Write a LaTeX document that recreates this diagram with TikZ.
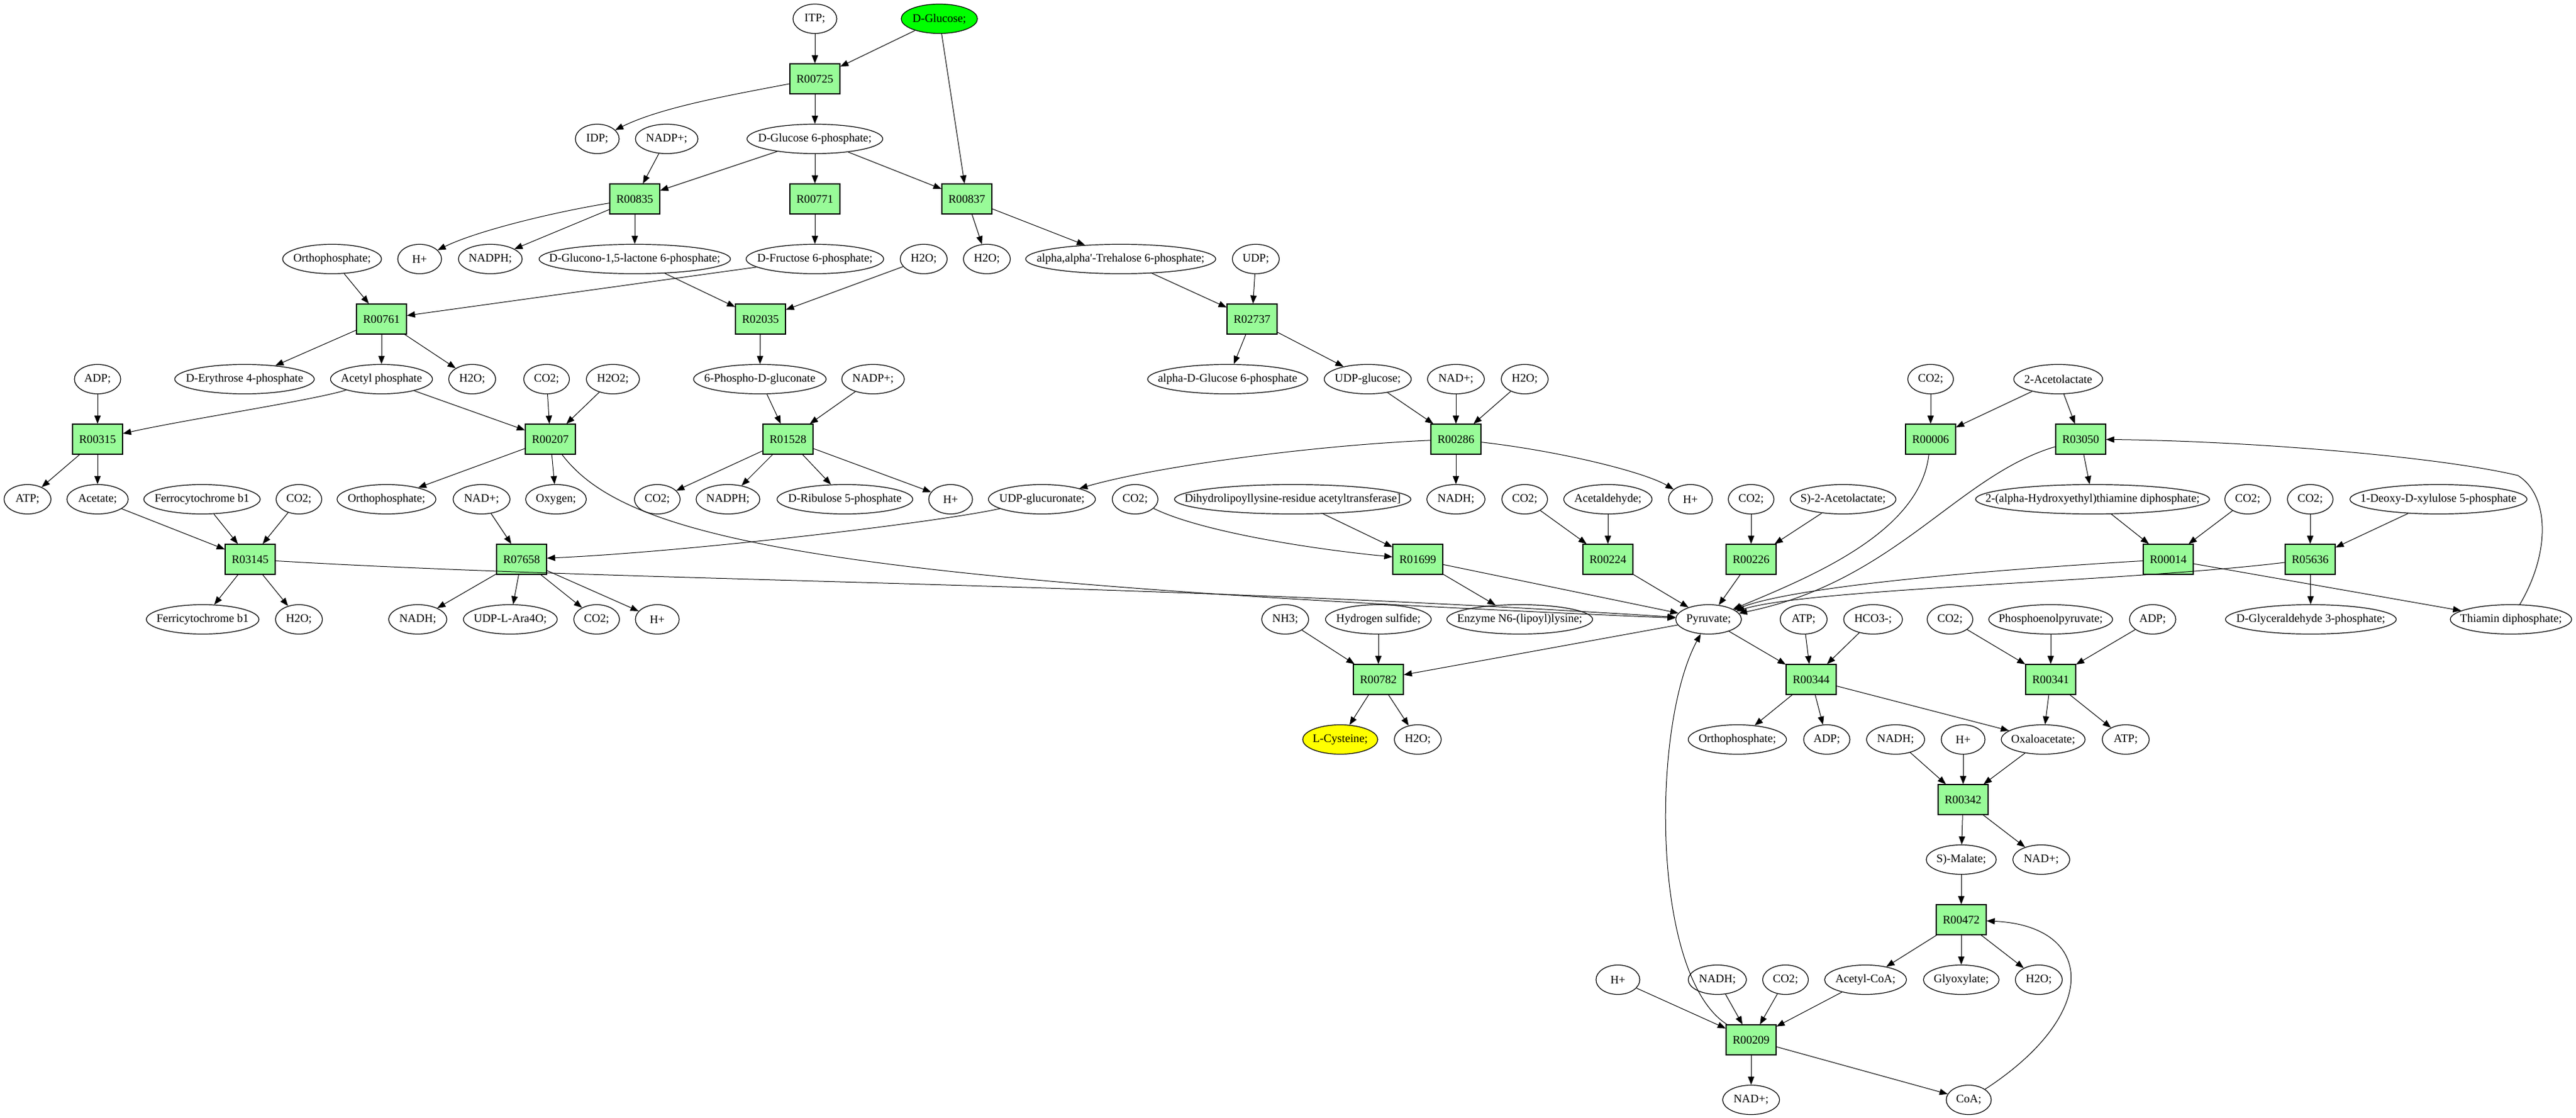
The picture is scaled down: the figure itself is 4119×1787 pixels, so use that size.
\documentclass[tikz,border=0pt]{standalone}
\usepackage{fontspec}
\setmainfont{Liberation Serif}
\usetikzlibrary{shapes.geometric,arrows.meta}
\definecolor{rxgreen}{RGB}{152,251,152}
\definecolor{glcgreen}{RGB}{0,255,0}
\definecolor{cysyellow}{RGB}{255,255,0}
\tikzset{
 met/.style={ellipse, draw, line width=0.6pt, inner sep=0pt, minimum height=23.5pt, font=\fontsize{9.3}{11}\selectfont},
 rxn/.style={rectangle, draw, line width=0.6pt, fill=rxgreen, inner sep=0pt, minimum width=40pt, minimum height=24pt, font=\fontsize{9.3}{11}\selectfont},
 arr/.style={-{Triangle[length=6.5pt,width=5pt]}, line width=0.5pt},
}
\newcommand{\metab}[5]{\node[met, minimum width=#4*0.5pt] (#1) at (#2,#3) {\makebox[0pt]{#5}};}
\newcommand{\rxnode}[3]{\node[rxn] (#1) at (#2,#3) {#1};}
\begin{document}
\begin{tikzpicture}[x=0.5pt,y=-0.5pt]
\fill[white] (0,0) rectangle (4119,1787);
\useasboundingbox (0,0) rectangle (4119,1787);
% row 30
\metab{itp}{1303}{30}{70}{ITP;}
\node[met, fill=glcgreen, minimum width=122*0.5pt] (glc) at (1502,30) {\makebox[0pt]{D-Glucose;}};
\rxnode{R00725}{1303}{126}
% row 222
\metab{idp}{955}{222}{70}{IDP;}
\metab{nadp1}{1066}{222}{100}{NADP+;}
\metab{g6p}{1303}{222}{217}{D-Glucose 6-phosphate;}
\rxnode{R00835}{1015}{318}
\rxnode{R00771}{1303}{318}
\rxnode{R00837}{1546}{318}
% row 414
\metab{orth1}{531}{414}{158}{Orthophosphate;}
\metab{hp1}{671}{414}{70}{H+}
\metab{nadph1}{784}{414}{102}{NADPH;}
\metab{glcl}{1015}{414}{306}{D-Glucono-1,5-lactone 6-phosphate;}
\metab{f6p}{1303}{414}{220}{D-Fructose 6-phosphate;}
\metab{h2o1}{1477}{414}{75}{H2O;}
\metab{h2o2}{1578}{414}{75}{H2O;}
\metab{t6p}{1792}{414}{304}{alpha,alpha\textquotesingle-Trehalose 6-phosphate;}
\metab{udp}{2008}{414}{75}{UDP;}
\rxnode{R00761}{610}{510}
\rxnode{R02035}{1216}{510}
\rxnode{R02737}{2002}{510}
% row 606
\metab{adp1}{156}{606}{74}{ADP;}
\metab{e4p}{391}{606}{223}{D-Erythrose 4-phosphate}
\metab{acp}{610}{606}{163}{Acetyl phosphate}
\metab{h2o3}{755}{606}{75}{H2O;}
\metab{co2a}{874}{606}{73}{CO2;}
\metab{h2o2x}{980}{606}{85}{H2O2;}
\metab{pg6}{1215}{606}{212}{6-Phospho-D-gluconate}
\metab{nadp2}{1396}{606}{100}{NADP+;}
\metab{ag6p}{1963}{606}{256}{alpha-D-Glucose 6-phosphate}
\metab{udpg}{2187}{606}{139}{UDP-glucose;}
\metab{nad1}{2328}{606}{91}{NAD+;}
\metab{h2o4}{2438}{606}{75}{H2O;}
\metab{co2b}{3087}{606}{73}{CO2;}
\metab{acl}{3291}{606}{142}{2-Acetolactate}
\rxnode{R00315}{156}{702}
\rxnode{R00207}{880}{702}
\rxnode{R01528}{1260}{702}
\rxnode{R00286}{2328}{702}
\rxnode{R00006}{3087}{702}
\rxnode{R03050}{3327}{702}
% row 798
\metab{atp1}{44}{798}{75}{ATP;}
\metab{acet}{156}{798}{98}{Acetate;}
\metab{ferro}{323}{798}{186}{Ferrocytochrome b1}
\metab{co2c}{478}{798}{73}{CO2;}
\metab{orth2}{618}{798}{158}{Orthophosphate;}
\metab{nad2}{770}{798}{91}{NAD+;}
\metab{oxy}{889}{798}{97}{Oxygen;}
\metab{co2d}{1051}{798}{73}{CO2;}
\metab{nadph2}{1164}{798}{102}{NADPH;}
\metab{ru5p}{1351}{798}{217}{D-Ribulose 5-phosphate}
\metab{hp2}{1520}{798}{70}{H+}
\metab{udpgluc}{1666}{798}{171}{UDP-glucuronate;}
\metab{co2e}{1815}{798}{73}{CO2;}
\metab{dihyd}{2067}{798}{378}{Dihydrolipoyllysine-residue acetyltransferase]}
\metab{nadh1}{2328}{798}{93}{NADH;}
\metab{co2f}{2438}{798}{73}{CO2;}
\metab{acald}{2571}{798}{141}{Acetaldehyde;}
\metab{hp3}{2703}{798}{70}{H+}
\metab{co2g}{2800}{798}{73}{CO2;}
\metab{sacl}{2947}{798}{169}{S)-2-Acetolactate;}
\metab{hetpp}{3346}{798}{374}{2-(alpha-Hydroxyethyl)thiamine diphosphate;}
\metab{co2h}{3594}{798}{73}{CO2;}
\metab{co2i}{3694}{798}{73}{CO2;}
\metab{dxp}{3899}{798}{283}{1-Deoxy-D-xylulose 5-phosphate}
% row 894
\rxnode{R03145}{400}{894}
\rxnode{R07658}{834}{894}
\rxnode{R01699}{2267}{894}
\rxnode{R00224}{2571}{894}
\rxnode{R00226}{2800}{894}
\rxnode{R00014}{3467}{894}
\rxnode{R05636}{3694}{894}
% row 990
\metab{ferri}{324}{990}{180}{Ferricytochrome b1}
\metab{h2o5}{478}{990}{75}{H2O;}
\metab{nadh2}{668}{990}{93}{NADH;}
\metab{ara}{816}{990}{150}{UDP-L-Ara4O;}
\metab{co2j}{954}{990}{73}{CO2;}
\metab{hp4}{1051}{990}{70}{H+}
\metab{nh3}{2055}{990}{75}{NH3;}
\metab{h2s}{2204}{990}{169}{Hydrogen sulfide;}
\metab{enz}{2430}{990}{233}{Enzyme N6-(lipoyl)lysine;}
\metab{pyr}{2732}{990}{105}{Pyruvate;}
\metab{atp2}{2884}{990}{75}{ATP;}
\metab{hco3}{2995}{990}{94}{HCO3-;}
\metab{co2k}{3118}{990}{73}{CO2;}
\metab{pep}{3279}{990}{198}{Phosphoenolpyruvate;}
\metab{adp2}{3442}{990}{74}{ADP;}
\metab{gap}{3695}{990}{273}{D-Glyceraldehyde 3-phosphate;}
\metab{thdp}{4015}{990}{194}{Thiamin diphosphate;}
\rxnode{R00782}{2204}{1086}
\rxnode{R00344}{2896}{1086}
\rxnode{R00341}{3279}{1086}
% row 1182
\node[met, fill=cysyellow, minimum width=120*0.5pt] (cys) at (2143,1182) {\makebox[0pt]{L-Cysteine;}};
\metab{h2o6}{2267}{1182}{75}{H2O;}
\metab{orth3}{2778}{1182}{157}{Orthophosphate;}
\metab{adp3}{2921}{1182}{74}{ADP;}
\metab{nadh3}{3031}{1182}{93}{NADH;}
\metab{hp5}{3139}{1182}{70}{H+}
\metab{oaa}{3267}{1182}{134}{Oxaloacetate;}
\metab{atp3}{3399}{1182}{75}{ATP;}
\rxnode{R00342}{3139}{1278}
\metab{mal}{3136}{1374}{112}{S)-Malate;}
\metab{nad3}{3264}{1374}{91}{NAD+;}
\rxnode{R00472}{3136}{1470}
\metab{hp6}{2587}{1566}{70}{H+}
\metab{nadh4}{2746}{1566}{93}{NADH;}
\metab{co2l}{2855}{1566}{73}{CO2;}
\metab{accoa}{2983}{1566}{131}{Acetyl-CoA;}
\metab{glx}{3136}{1566}{121}{Glyoxylate;}
\metab{h2o7}{3260}{1566}{75}{H2O;}
\rxnode{R00209}{2800}{1662}
\metab{nad4}{2800}{1758}{91}{NAD+;}
\metab{coa}{3148}{1758}{72}{CoA;}
% straight edges
\foreach \a/\b in {itp/R00725, glc/R00725, glc/R00837, R00725/g6p, nadp1/R00835, g6p/R00835, g6p/R00771, g6p/R00837,
 R00835/nadph1, R00835/glcl, R00771/f6p, R00837/h2o2, R00837/t6p, orth1/R00761, f6p/R00761, glcl/R02035, h2o1/R02035,
 t6p/R02737, udp/R02737, R00761/e4p, R00761/acp, R00761/h2o3, R02035/pg6, R02737/ag6p, R02737/udpg, adp1/R00315,
 acp/R00207, co2a/R00207, h2o2x/R00207, pg6/R01528, nadp2/R01528, udpg/R00286, nad1/R00286, h2o4/R00286,
 co2b/R00006, acl/R00006, acl/R03050, R00315/atp1, R00315/acet, R00207/orth2, R00207/oxy, R01528/co2d, R01528/nadph2,
 R01528/ru5p, R01528/hp2, R00286/nadh1, R03050/hetpp, acet/R03145, ferro/R03145, co2c/R03145, nad2/R07658,
 dihyd/R01699, co2f/R00224, acald/R00224, co2g/R00226, sacl/R00226, hetpp/R00014, co2h/R00014, co2i/R05636,
 dxp/R05636, R03145/ferri, R03145/h2o5, R07658/nadh2, R07658/ara, R07658/co2j, R07658/hp4, R01699/enz, R01699/pyr,
 R00224/pyr, R00226/pyr, R00014/thdp, R05636/gap, nh3/R00782, h2s/R00782, pyr/R00782, pyr/R00344, atp2/R00344,
 hco3/R00344, co2k/R00341, pep/R00341, adp2/R00341, R00782/cys, R00782/h2o6, R00344/orth3, R00344/adp3, R00344/oaa,
 R00341/oaa, R00341/atp3, nadh3/R00342, hp5/R00342, oaa/R00342, R00342/mal, R00342/nad3, mal/R00472, R00472/accoa,
 R00472/glx, R00472/h2o7, hp6/R00209, nadh4/R00209, co2l/R00209, accoa/R00209, R00209/nad4, R00209/coa}
 \draw[arr] (\a) -- (\b);
% curved edges
\draw[arr] (R00725) .. controls (1180,150) and (1060,170) .. (idp);
\draw[arr] (R00835) .. controls (880,340) and (760,370) .. (hp1);
\draw[arr] (R00286) .. controls (2100,712) and (1850,745) .. (udpgluc);
\draw[arr] (R00286) .. controls (2500,722) and (2630,755) .. (hp3);
\draw[arr] (co2e) .. controls (1920,850) and (2100,878) .. (R01699);
\draw[arr] (R00207) .. controls (1000,860) and (1300,930) .. (pyr);
\draw[arr] (R03145) .. controls (1000,930) and (1800,930) .. (pyr);
\draw[arr] (udpgluc) .. controls (1500,835) and (1100,882) .. (R07658);
\draw[arr] (acp) .. controls (500,640) and (300,670) .. (R00315);
\draw[arr] (R00006) .. controls (3070,850) and (2900,920) .. (pyr);
\draw[arr] (R03050) .. controls (3130,760) and (3030,930) .. (pyr);
\draw[arr] (R00014) .. controls (3200,910) and (2880,935) .. (pyr);
\draw[arr] (R05636) .. controls (3400,930) and (2900,940) .. (pyr);
\coordinate (tbend) at (4026,760);
\draw[arr] (thdp) .. controls (4080,880) and (4075,790) .. (tbend) .. controls (3900,730) and (3600,705) .. (R03050);
\draw[arr] (R00209) .. controls (2640,1560) and (2640,1160) .. (pyr);
\draw[arr] (coa) .. controls (3360,1620) and (3350,1480) .. (R00472);
\end{tikzpicture}
\end{document}
